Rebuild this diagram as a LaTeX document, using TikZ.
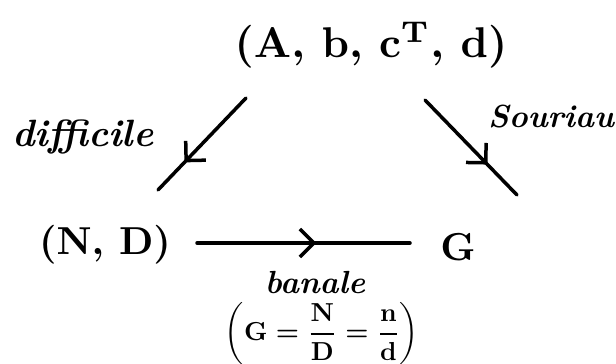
\documentclass[tikz,border=0pt]{standalone}
\usepackage{amsmath}
\usetikzlibrary{arrows.meta,decorations.markings}
\begin{document}
\begin{tikzpicture}[x=1pt,y=-1pt,
  big/.style={inner sep=0pt, scale=#1, font=\boldmath},
  lbl/.style={inner sep=0pt, scale=#1, font=\itshape\bfseries},
  arr/.style={line width=3.5pt, line cap=round, postaction={decorate},
    decoration={markings, mark=at position #1 with {\arrow{Straight Barb[length=14pt,width=28pt]}}}}]
\useasboundingbox (0,0) rectangle (616,364);
\node[big=4.3] (top) at (371,45) {$(\mathbf{A},\, \mathbf{b},\, \mathbf{c}^{\mathbf{T}},\, \mathbf{d})$};
\node[big=3.9] (nd) at (105,245) {$(\mathbf{N},\, \mathbf{D})$};
\node[big=3.9] (g) at (458,247) {$\mathbf{G}$};
\node[lbl=3.8] (diff) at (83,137) {difficile};
\node[lbl=3.2] (sour) at (551,117) {Souriau};
\node[lbl=3.2] (ban) at (315,283) {banale};
\node[big=2.6] (form) at (322,334) {$\left(\mathbf{G} = \dfrac{\mathbf{N}}{\mathbf{D}} = \dfrac{\mathbf{n}}{\mathbf{d}}\right)$};
\coordinate (l1) at (246,98);
\coordinate (l2) at (158,190);
\coordinate (r1) at (425,100);
\coordinate (r2) at (517,195);
\coordinate (h1) at (197,243);
\coordinate (h2) at (410,243);
\draw[arr=0.7] (l1) -- (l2);
\draw[arr=0.68] (r1) -- (r2);
\draw[arr=0.56] (h1) -- (h2);
\end{tikzpicture}
\end{document}
